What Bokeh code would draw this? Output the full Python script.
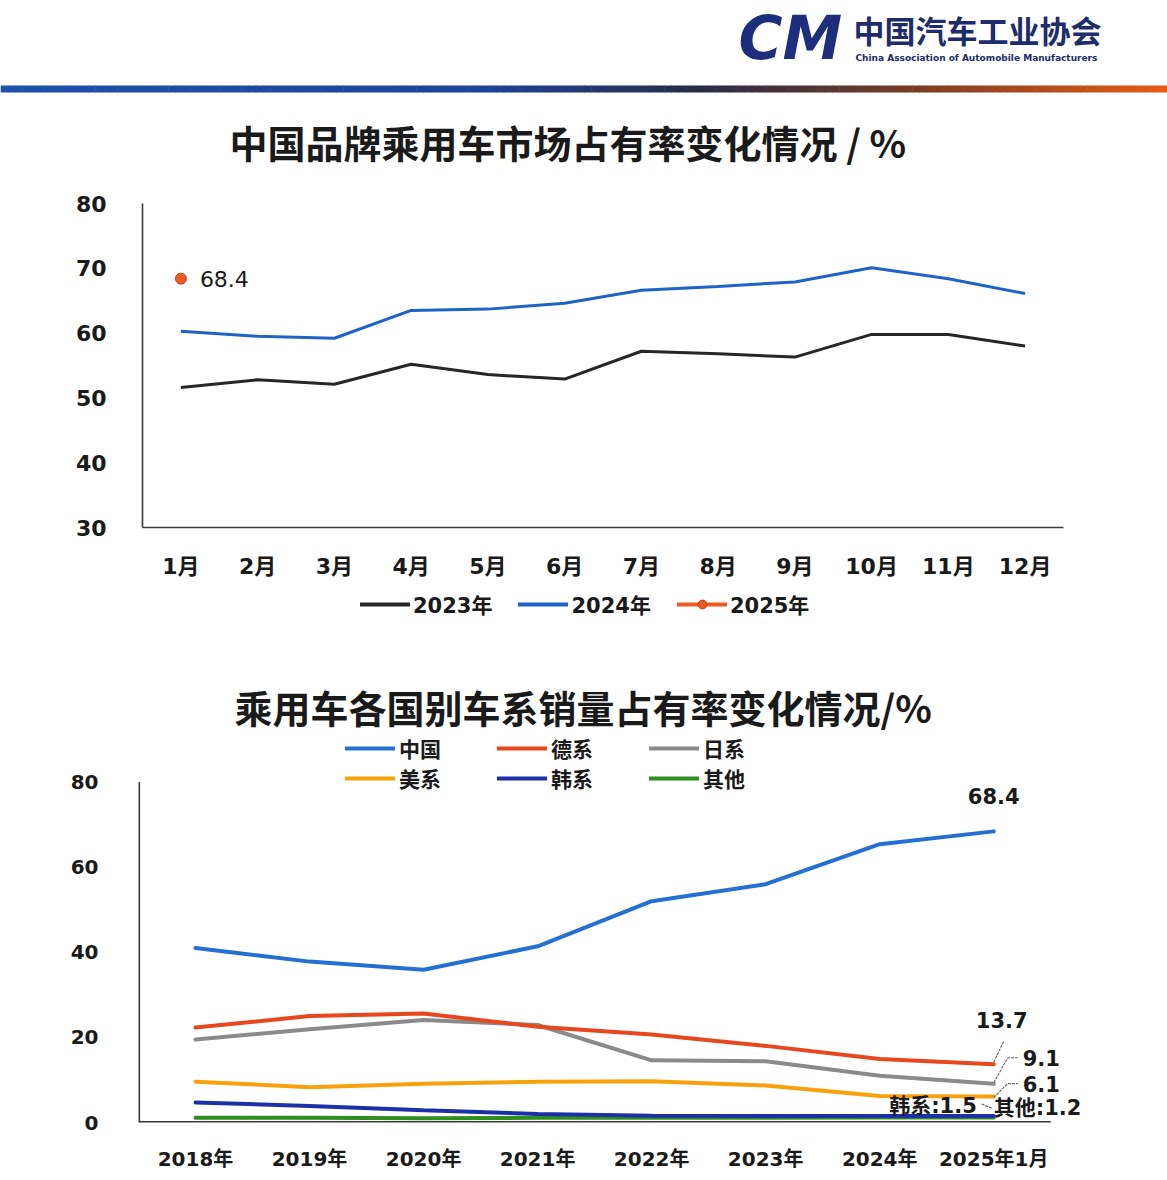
import numpy as np
from bokeh.plotting import figure
from bokeh.models import Range1d, FixedTicker, Legend, LegendItem
from bokeh.embed import file_html
from bokeh.resources import INLINE
from bokeh.core.properties import value

# ---------------- data ----------------
months = ["1月", "2月", "3月", "4月", "5月", "6月", "7月", "8月", "9月", "10月", "11月", "12月"]
share_2023 = [51.6, 52.8, 52.1, 55.2, 53.6, 52.9, 57.2, 56.8, 56.3, 59.8, 59.8, 58.0]
share_2024 = [60.3, 59.5, 59.2, 63.5, 63.7, 64.6, 66.6, 67.2, 67.9, 70.1, 68.4, 66.1]
share_2025 = [68.4]
top_yticks = [30, 40, 50, 60, 70, 80]

years = ["2018年", "2019年", "2020年", "2021年", "2022年", "2023年", "2024年", "2025年1月"]
china = [41.0, 37.8, 35.9, 41.4, 52.0, 56.0, 65.4, 68.4]
german = [22.3, 25.0, 25.6, 22.5, 20.7, 18.0, 14.9, 13.7]
japanese = [19.5, 21.9, 24.1, 22.9, 14.6, 14.4, 11.0, 9.1]
american = [9.6, 8.3, 9.1, 9.6, 9.7, 8.7, 6.2, 6.1]
korean = [4.7, 3.9, 2.9, 2.0, 1.6, 1.5, 1.5, 1.5]
others = [1.1, 1.1, 1.0, 1.1, 1.1, 1.1, 1.2, 1.2]
bottom_yticks = [0, 20, 40, 60, 80]

title1 = "中国品牌乘用车市场占有率变化情况 / %"
title2 = "乘用车各国别车系销量占有率变化情况/%"

NUM = "'DejaVu Sans', 'Noto Sans CJK SC', sans-serif"
CJK = "'Noto Sans CJK SC', sans-serif"
INK = "#1a1a1a"
AXIS = "#3a3a3a"
NAVY = "#1d2c6a"
W = 1167

C23, C24, C25 = "#262626", "#1f63c6", "#ee5a1e"


def blank(height, y_top):
    f = figure(width=W, height=height, x_range=Range1d(0, W), y_range=Range1d(y_top, 0),
               x_axis_type=None, y_axis_type=None, output_backend="svg",
               toolbar_location=None, min_border=0)
    f.grid.visible = False
    f.outline_line_color = None
    return f


# ---------------- header + chart-1 title (page y 0..190) ----------------
HH = 190
ph = blank(HH, HH)

stops = [(0.0, (28, 82, 172)), (0.42, (30, 66, 150)), (0.6, (40, 44, 70)),
         (0.78, (120, 60, 35)), (1.0, (232, 92, 20))]
n = 160
edges = np.linspace(0, W, n + 1)
cols = []
for i in range(n):
    t = (i + 0.5) / n
    for (t0, c0), (t1, c1) in zip(stops[:-1], stops[1:]):
        if t0 <= t <= t1:
            f = (t - t0) / (t1 - t0)
            c = tuple(int(round(a + (b - a) * f)) for a, b in zip(c0, c1))
            cols.append("#%02x%02x%02x" % c)
            break
ph.quad(left=edges[:-1], right=edges[1:] + 0.5, top=85, bottom=92, fill_color=cols, line_color=None)

ph.text(x=[738], y=[37], text=["CM"], text_font=value("DejaVu Sans"), text_font_style="bold italic",
        text_font_size="60px", text_color="#1d2f7c", text_baseline="middle")
ph.text(x=[853], y=[29], text=["中国汽车工业协会"], text_font=value(CJK), text_font_style="bold",
        text_font_size="31px", text_color=NAVY, text_baseline="middle")
ph.text(x=[855], y=[57], text=["China Association of Automobile Manufacturers"], text_font=value("DejaVu Sans"),
        text_font_style="bold", text_font_size="9px", text_color=NAVY, text_baseline="middle")
ph.text(x=[229], y=[141], text=[title1], text_font=value(CJK), text_font_style="bold",
        text_font_size="38px", text_color=INK, text_baseline="middle", text_align="left")


def style_axes(p, yticks, xlabels, size):
    p.grid.visible = False
    p.outline_line_color = None
    for ax in (p.xaxis[0], p.yaxis[0]):
        ax.axis_line_color = AXIS
        ax.axis_line_width = 1.6
        ax.major_tick_line_color = None
        ax.minor_tick_line_color = None
        ax.major_label_text_font = NUM
        ax.major_label_text_font_style = "bold"
        ax.major_label_text_color = INK
        ax.major_label_text_font_size = size
    p.yaxis.ticker = FixedTicker(ticks=yticks)
    p.xaxis.ticker = FixedTicker(ticks=list(range(len(xlabels))))
    p.xaxis.major_label_overrides = {i: s for i, s in enumerate(xlabels)}


# ---------------- chart 1 (page y 190..585) ----------------
p1 = figure(width=W, height=395, x_range=Range1d(-0.5, len(months) - 0.5), y_range=Range1d(30, 80),
            output_backend="svg", toolbar_location=None,
            min_border_left=142, min_border_right=104, min_border_top=13, min_border_bottom=58)
style_axes(p1, top_yticks, months, "22px")
p1.yaxis.major_label_standoff = 30
p1.xaxis.major_label_standoff = 20

xm = list(range(len(months)))
p1.line(xm, share_2023, line_color=C23, line_width=3)
p1.line(xm, share_2024, line_color=C24, line_width=3)
x25 = list(range(len(share_2025)))
p1.scatter(x25, share_2025, size=11, fill_color=C25, line_color="#c0392b")
p1.text(x=x25, y=share_2025, text=[f"{v}" for v in share_2025], x_offset=19,
        text_font=value("DejaVu Sans"), text_font_size="22px", text_color=INK,
        text_baseline="middle", text_align="left")

# ---------------- chart-1 legend + chart-2 title (page y 585..734) ----------------
HL = 149
pl = blank(HL, HL)
pl.extra_x_ranges = {"hide_x": Range1d(-0.5, len(months) - 0.5)}
pl.extra_y_ranges = {"hide": Range1d(0, 1)}   # keeps the legend's source lines out of view
kw = dict(x_range_name="hide_x", y_range_name="hide")
l23 = pl.line(xm, share_2023, line_color=C23, line_width=4, line_cap="round", **kw)
l24 = pl.line(xm, share_2024, line_color=C24, line_width=4, line_cap="round", **kw)
l25 = pl.line(x25, share_2025, line_color=C25, line_width=4, line_cap="round", **kw)
s25 = pl.scatter(x25, share_2025, size=10, fill_color=C25, line_color="#c0392b", **kw)
leg1 = Legend(items=[LegendItem(label="2023年", renderers=[l23]),
                     LegendItem(label="2024年", renderers=[l24]),
                     LegendItem(label="2025年", renderers=[l25, s25])],
              orientation="horizontal", location=(360, HL - 34),
              glyph_width=50, glyph_height=22, label_standoff=3, spacing=26, padding=0,
              margin=0, border_line_color=None, background_fill_alpha=0,
              label_text_font=NUM, label_text_font_style="bold", label_text_font_size="21px",
              label_text_color=INK)
pl.add_layout(leg1, "center")
pl.text(x=[234], y=[121], text=[title2], text_font=value(CJK), text_font_style="bold",
        text_font_size="38px", text_color=INK, text_baseline="middle", text_align="left")

# ---------------- chart 2 (page y 734..1180) ----------------
n_years = len(years)
x_lo, x_hi = -0.5, n_years - 0.5
p2 = figure(width=W, height=446, x_range=Range1d(x_lo, x_hi + 0.48), y_range=Range1d(0, 91.16),
            output_backend="svg", toolbar_location=None,
            min_border_left=138, min_border_right=62, min_border_top=0, min_border_bottom=58)
style_axes(p2, bottom_yticks, years, "20px")
p2.xaxis.axis_line_color = None
p2.yaxis.axis_line_color = None
p2.yaxis.major_label_standoff = 34
p2.xaxis.major_label_standoff = 18
# axis lines limited to the data extent (0..80, first..last category)
p2.segment(x0=[x_lo, x_lo], y0=[0, 0], x1=[x_lo, x_hi], y1=[bottom_yticks[-1], 0],
           line_color=AXIS, line_width=3.2)

xy = list(range(n_years))
series = [("中国", china, "#2370d2"), ("德系", german, "#e8461c"), ("日系", japanese, "#8a8a8a"),
          ("美系", american, "#f7a20c"), ("韩系", korean, "#1c31a8"), ("其他", others, "#2f8f1e")]
rends = {}
for name, vals, colr in reversed(series):
    rends[name] = p2.line(xy, vals, line_color=colr, line_width=4, line_cap="round")

leg2 = Legend(items=[LegendItem(label=name, renderers=[rends[name]]) for name, _, _ in series],
              orientation="horizontal", ncols=3, location=(207, 329),
              glyph_width=50, glyph_height=24, label_height=24, label_width=98, label_standoff=4,
              spacing=0, padding=0, margin=0, border_line_color=None, background_fill_alpha=0,
              label_text_font=CJK, label_text_font_style="bold", label_text_font_size="21px",
              label_text_color=INK)
p2.add_layout(leg2, "center")

# end-point annotations
last = n_years - 1
ann = [(china[last], f"{china[last]}", 0, -35, "center"),
       (german[last], f"{german[last]}", 8, -44, "center"),
       (japanese[last], f"{japanese[last]}", 29, -26, "left"),
       (american[last], f"{american[last]}", 29, -13, "left"),
       (korean[last], f"韩系:{korean[last]}", -17, -10, "right"),
       (others[last], f"其他:{others[last]}", 0, -9, "left")]
for v, t, dx, dy, al in ann:
    p2.text(x=[last], y=[v], text=[t], x_offset=dx, y_offset=dy, text_align=al, text_baseline="middle",
            text_font=value(NUM), text_font_style="bold", text_font_size="21px", text_color=INK)

# leader lines (offsets in data units from the end points)
px_x = 1.0 / 114.0
px_y = 1.0 / 4.256
lead_x = [[last, last + 10 * px_x],
          [last, last + 14 * px_x, last + 24 * px_x],
          [last, last + 14 * px_x, last + 24 * px_x],
          [last - 12 * px_x, last - 2 * px_x]]
lead_y = [[german[last] + 2 * px_y, german[last] + 23 * px_y],
          [japanese[last] + 1 * px_y, japanese[last] + 26 * px_y, japanese[last] + 26 * px_y],
          [american[last] - 1 * px_y, american[last] + 13 * px_y, american[last] + 13 * px_y],
          [korean[last] + 12 * px_y, korean[last] + 8 * px_y]]
p2.multi_line(lead_x, lead_y, line_color="#6a6a6a", line_width=1.2, line_dash="3 1")

open("out.html", "w").write(file_html([ph, p1, pl, p2], INLINE))
